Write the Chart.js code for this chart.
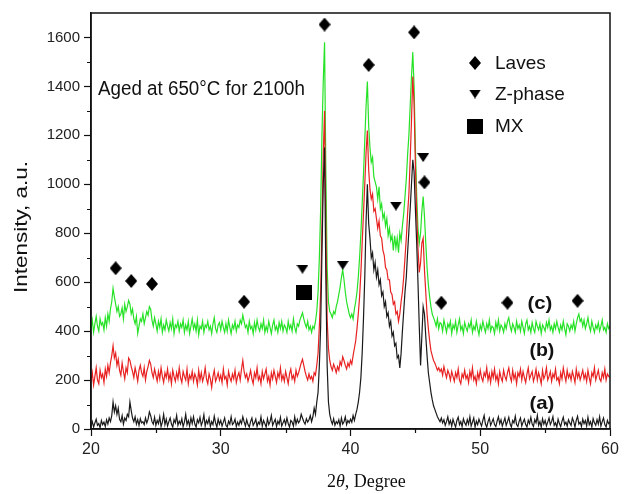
<!DOCTYPE html>
<html lang="en">
<head>
<meta charset="utf-8" />
<title>XRD - aged at 650°C for 2100h</title>
<script src="https://cdn.jsdelivr.net/npm/chart.js"></script>
<style>
  html, body { margin: 0; padding: 0; background: #fff; }
  #xrd { display: block; }
</style>
</head>
<body>
<canvas id="xrd" width="632" height="494"></canvas>
<script>
// scan grid: 2theta from 20 to 60 deg, 0.1 deg steps
const twoTheta = Array.from({ length: 401 }, (_, i) => +(20 + i * 0.1).toFixed(1));

// (a) – one row per degree
const intensityA = [
  12, 30, 8, 25, 40, 15, 22, 5, 35, 18,
  28, 10, 38, 20, 45, 30, 55, 110, 70, 95,
  60, 85, 40, 30, 55, 20, 45, 35, 60, 50,
  110, 75, 45, 30, 50, 20, 38, 15, 42, 25,
  30, 18, 45, 25, 40, 70, 55, 30, 20, 48,
  15, 35, 22, 50, 10, 28, 60, 18, 40, 12,
  30, 45, 20, 8, 38, 25, 55, 15, 32, 20,
  42, 10, 28, 60, 18, 35, 12, 45, 22, 50,
  20, 8, 38, 25, 48, 15, 30, 58, 12, 35,
  22, 45, 10, 30, 18, 52, 25, 8, 40, 20,
  35, 12, 28, 45, 15, 8, 32, 20, 50, 18,
  25, 40, 10, 28, 15, 35, 22, 50, 30, 12,
  38, 18, 8, 30, 45, 15, 25, 40, 10, 28,
  20, 50, 12, 35, 22, 8, 42, 18, 30, 55,
  15, 28, 40, 10, 32, 20, 48, 12, 25, 38,
  18, 45, 22, 8, 35, 28, 12, 50, 20, 40,
  25, 35, 60, 45, 30, 20, 42, 28, 38, 55,
  30, 50, 85, 60, 110, 150, 260, 420, 720, 1000,
  1150, 620, 260, 110, 60, 35, 20, 42, 15, 30,
  22, 38, 12, 45, 20, 30, 50, 18, 35, 25,
  40, 28, 55, 35, 60, 80, 110, 150, 210, 310,
  450, 620, 850, 1000, 840, 780, 700, 720, 650, 680,
  620, 650, 590, 610, 545, 560, 500, 520, 460, 475,
  420, 440, 380, 395, 340, 350, 290, 300, 250, 310,
  400, 480, 560, 620, 720, 810, 900, 1000, 1100, 1050,
  900, 760, 600, 420, 260, 380, 500, 470, 380, 300,
  230, 190, 150, 120, 95, 80, 65, 50, 40, 30,
  45, 25, 38, 15, 30, 50, 20, 35, 12, 40,
  22, 8, 35, 48, 18, 30, 10, 42, 25, 15,
  38, 20, 50, 12, 28, 45, 8, 32, 18, 40,
  25, 12, 35, 55, 20, 8, 30, 45, 15, 28,
  42, 18, 10, 32, 50, 22, 38, 12, 28, 45,
  15, 30, 48, 20, 8, 35, 25, 52, 18, 10,
  32, 45, 12, 28, 40, 18, 8, 36, 22, 48,
  20, 10, 38, 25, 55, 15, 30, 8, 42, 20,
  35, 12, 28, 45, 18, 30, 50, 15, 25, 8,
  40, 22, 10, 32, 48, 18, 28, 12, 38, 25,
  15, 45, 30, 8, 35, 52, 20, 28, 10, 40,
  22, 35, 12, 48, 18, 30, 8, 42, 25, 15,
  38, 20, 50, 12, 30, 45, 18, 8, 35, 22,
  28
];

// (b)
const intensityB = [
  195, 230, 180, 215, 250, 200, 185, 240, 210, 225,
  190, 245, 215, 260, 230, 270, 300, 340, 290, 310,
  260, 285, 240, 220, 270, 235, 205, 250, 230, 290,
  280, 255, 235, 210, 250, 225, 195, 240, 260, 230,
  215, 250, 200, 235, 255, 280, 265, 230, 210, 245,
  220, 195, 235, 205, 250, 215, 190, 230, 210, 245,
  200, 225, 185, 240, 215, 195, 230, 205, 250, 210,
  190, 235, 215, 200, 245, 185, 220, 205, 235, 195,
  225, 210, 180, 240, 200, 230, 195, 215, 250, 205,
  185, 225, 205, 170, 215, 240, 195, 210, 230, 200,
  220, 190, 245, 205, 215, 180, 235, 210, 195, 225,
  205, 240, 190, 215, 230, 200, 245, 280, 235, 210,
  225, 195, 215, 240, 205, 185, 230, 210, 250, 200,
  215, 185, 235, 205, 225, 245, 195, 215, 180, 230,
  205, 240, 215, 190, 230, 210, 250, 200, 220, 195,
  235, 210, 185, 225, 245, 205, 220, 195, 240, 215,
  230, 250, 270, 285, 260, 235, 215, 200, 225, 205,
  215, 195, 230, 220, 260, 310, 420, 560, 820, 1120,
  1300, 820, 450, 330, 280, 255, 240, 265, 250, 230,
  255, 240, 275, 260, 295, 280, 260, 245, 270, 255,
  280, 265, 300, 330, 360, 410, 470, 540, 640, 760,
  880, 1000, 1130, 1220, 1060, 980, 940, 960, 890, 900,
  860, 820, 850, 790, 780, 730, 710, 660, 650, 610,
  610, 560, 550, 510, 520, 470, 480, 440, 470, 520,
  560, 620, 700, 780, 880, 960, 1100, 1260, 1440, 1330,
  1080, 880, 740, 640, 680, 760, 780, 650, 560, 470,
  410, 360, 320, 300, 280, 270, 255, 240, 250, 235,
  245, 220, 255, 230, 210, 240, 225, 200, 235, 215,
  195, 230, 210, 245, 200, 185, 225, 210, 240, 205,
  220, 190, 235, 210, 250, 200, 215, 185, 230, 205,
  240, 210, 195, 230, 215, 250, 200, 225, 190, 235,
  210, 245, 200, 220, 185, 235, 210, 195, 240, 215,
  200, 230, 250, 215, 195, 240, 205, 225, 185, 230,
  215, 245, 200, 235, 210, 190, 225, 250, 205, 220,
  235, 195, 215, 245, 200, 230, 210, 185, 240, 205,
  220, 250, 200, 215, 235, 195, 225, 210, 245, 200,
  210, 185, 230, 205, 250, 220, 195, 240, 210, 225,
  200, 235, 215, 190, 245, 210, 230, 200, 220, 240,
  205, 225, 195, 240, 210, 185, 230, 215, 250, 200,
  220, 240, 205, 195, 230, 210, 245, 200, 225, 215,
  210
];

// (c)
const intensityC = [
  410, 445, 395, 430, 460, 420, 400, 450, 425, 435,
  405, 455, 420, 470, 440, 490, 520, 575, 540, 510,
  480, 500, 460, 470, 495, 450, 510, 480, 500, 525,
  510, 470, 490, 450, 430, 460, 390, 420, 450, 440,
  470, 430, 455, 480, 465, 500, 490, 445, 420, 455,
  430, 400, 440, 415, 450, 395, 425, 405, 445, 420,
  400, 435, 410, 450, 390, 425, 415, 440, 400, 430,
  415, 445, 395, 425, 405, 440, 390, 420, 450, 410,
  430, 400, 445, 385, 420, 410, 440, 395, 425, 415,
  440, 405, 420, 390, 430, 455, 410, 395, 425, 435,
  405, 440, 415, 395, 430, 400, 445, 415, 390, 425,
  410, 440, 400, 425, 415, 445, 430, 465, 440, 415,
  425, 395, 440, 410, 420, 390, 435, 405, 445, 415,
  400, 430, 410, 445, 395, 420, 400, 440, 415, 390,
  425, 445, 405, 420, 395, 435, 410, 440, 400, 425,
  415, 395, 440, 410, 425, 400, 450, 415, 395, 430,
  420, 445, 460, 475, 450, 430, 415, 440, 405, 420,
  395, 420, 410, 440, 480, 560, 700, 900, 1200, 1420,
  1580, 1050, 660, 520, 480, 470, 455, 480, 470, 500,
  520, 550, 580, 620, 650, 610, 560, 520, 495, 470,
  455, 470, 450, 490, 520, 560, 620, 700, 800, 920,
  1040, 1180, 1320, 1420, 1240, 1150, 1090, 1110, 1030, 1010,
  990, 940, 990, 900, 920, 860, 880, 830, 860, 790,
  820, 770, 790, 730, 790, 740, 780, 720, 800, 770,
  830, 880, 950, 1020, 1120, 1200, 1320, 1440, 1540, 1400,
  1150, 960, 820, 760, 800, 890, 950, 870, 760, 660,
  590, 540, 500, 470, 455, 440, 420, 450, 410, 435,
  430, 400, 445, 420, 395, 430, 415, 440, 390, 425,
  410, 440, 395, 425, 450, 405, 420, 390, 435, 415,
  400, 430, 415, 445, 395, 420, 405, 440, 410, 385,
  425, 405, 440, 415, 395, 430, 410, 445, 400, 420,
  415, 390, 435, 410, 445, 400, 425, 415, 395, 430,
  410, 440, 455, 420, 400, 430, 415, 395, 440, 410,
  425, 400, 440, 415, 390, 430, 445, 405, 420, 395,
  435, 410, 395, 440, 420, 405, 430, 390, 425, 415,
  400, 435, 415, 445, 405, 420, 395, 430, 410, 440,
  415, 395, 425, 405, 440, 410, 385, 430, 420, 400,
  425, 410, 440, 400, 430, 455, 470, 440, 450, 420,
  445, 410, 430, 455, 420, 400, 440, 415, 395, 425,
  410, 435, 400, 420, 445, 405, 415, 395, 430, 410,
  420
];

// phase markers (2theta, height)
const lavesX = [21.9, 23.1, 24.7, 31.8, 38.0, 41.4, 44.9, 45.7, 47.0, 52.1, 57.5];
const lavesY = [657, 605, 593, 520, 1653, 1488, 1621, 1008, 516, 516, 524];
const zPhaseX = [36.3, 39.4, 43.5, 45.6];
const zPhaseY = [653, 669, 911, 1109];
const mxX = [36.4];
const mxY = [556];

const xTicks = [20, 30, 40, 50, 60];
const yTicks = [0, 200, 400, 600, 800, 1000, 1200, 1400, 1600];
const xMinorTicks = [25, 35, 45, 55];
const yMinorTicks = [100, 300, 500, 700, 900, 1100, 1300, 1500];

const phaseNames = ['Laves', 'Z-phase', 'MX'];
const sampleNames = ['(a)', '(b)', '(c)'];

const SANS = '"Liberation Sans", Arial, sans-serif';
const SERIF = '"Liberation Serif", "Times New Roman", serif';

// small filled glyphs used as point styles
function glyph(w, h, path) {
  const c = document.createElement('canvas');
  c.width = w;
  c.height = h;
  const g = c.getContext('2d');
  g.fillStyle = '#000';
  g.beginPath();
  path(g, w, h);
  g.closePath();
  g.fill();
  return c;
}
const diamond = glyph(12, 14, (g, w, h) => { g.moveTo(w / 2, 0); g.lineTo(w, h / 2); g.lineTo(w / 2, h); g.lineTo(0, h / 2); });
const triDown = glyph(12, 9, (g, w, h) => { g.moveTo(0, 0); g.lineTo(w, 0); g.lineTo(w / 2, h); });
const square = glyph(16, 15, (g, w, h) => g.rect(0, 0, w, h));

function trace(label, values, color) {
  return {
    type: 'line',
    label,
    data: values.map((y, i) => ({ x: twoTheta[i], y })),
    borderColor: color,
    borderWidth: 1.2,
    pointRadius: 0,
    tension: 0
  };
}

function markers(label, xs, ys, style) {
  return {
    type: 'scatter',
    label,
    data: xs.map((x, i) => ({ x, y: ys[i] })),
    pointStyle: style,
    pointRadius: 6,
    showLine: false,
    order: -1
  };
}

// text squeezed/stretched to a given width (left-aligned context expected)
function fitText(ctx, text, x, y, width, center) {
  const w = ctx.measureText(text).width;
  ctx.save();
  ctx.translate(x, y);
  ctx.scale(width / w, 1);
  ctx.fillText(text, center ? -w / 2 : 0, 0);
  ctx.restore();
}

const decorations = {
  id: 'decorations',
  afterDraw(chart) {
    const { ctx, chartArea: a, scales: { x, y } } = chart;
    ctx.save();
    ctx.strokeStyle = '#111';
    ctx.fillStyle = '#111';
    ctx.textAlign = 'left';

    // frame
    ctx.lineWidth = 1.5;
    ctx.strokeRect(a.left, a.top, a.right - a.left, a.bottom - a.top);

    // minor ticks
    ctx.beginPath();
    yMinorTicks.forEach(v => {
      const py = Math.round(y.getPixelForValue(v)) + 0.5;
      ctx.moveTo(a.left - 4, py);
      ctx.lineTo(a.left, py);
    });
    xMinorTicks.forEach(v => {
      const px = Math.round(x.getPixelForValue(v)) + 0.5;
      ctx.moveTo(px, a.bottom);
      ctx.lineTo(px, a.bottom + 4);
    });
    ctx.lineWidth = 1.2;
    ctx.stroke();

    // axis titles
    ctx.textBaseline = 'middle';
    ctx.font = '18px ' + SANS;
    ctx.save();
    ctx.translate(a.left - 69, (a.top + a.bottom) / 2 + 6);
    ctx.rotate(-Math.PI / 2);
    fitText(ctx, 'Intensity, a.u.', 0, 0, 132, true);
    ctx.restore();

    ctx.textBaseline = 'alphabetic';
    let tx = a.left + 236;
    const ty = a.bottom + 58;
    ctx.font = '18px ' + SERIF;
    ctx.fillText('2', tx, ty);
    tx += ctx.measureText('2').width;
    ctx.font = 'italic 18px ' + SERIF;
    ctx.fillText('θ', tx, ty);
    tx += ctx.measureText('θ').width;
    ctx.font = '18px ' + SERIF;
    ctx.fillText(', Degree', tx, ty);

    // condition note
    ctx.font = '20px ' + SANS;
    fitText(ctx, 'Aged at 650°C for 2100h', a.left + 7, a.top + 82, 207, false);

    // phase key
    const keyX = a.left + 384;
    const keyRows = [a.top + 50, a.top + 81, a.top + 113];
    const keyGlyphs = [diamond, triDown, square];
    ctx.textBaseline = 'middle';
    ctx.font = '19px ' + SANS;
    phaseNames.forEach((name, i) => {
      const g = keyGlyphs[i];
      ctx.drawImage(g, keyX - g.width / 2, keyRows[i] - g.height / 2);
      ctx.fillText(name, keyX + 20, keyRows[i] + 1);
    });

    // sample labels next to each trace
    ctx.font = 'bold 19px ' + SANS;
    const labelPos = [[54.75, 105], [54.75, 319], [54.6, 512]];
    sampleNames.forEach((name, i) => {
      fitText(ctx, name, x.getPixelForValue(labelPos[i][0]), y.getPixelForValue(labelPos[i][1]), 25, true);
    });

    ctx.restore();
  }
};

const axisCommon = {
  type: 'linear',
  grid: { drawOnChartArea: false, drawTicks: true, tickLength: 7, tickColor: '#111', tickWidth: 1.2 },
  border: { color: '#111', width: 1.5 },
  title: { display: false }
};

new Chart(document.getElementById('xrd'), {
  data: {
    datasets: [
      trace('(a)', intensityA, '#1a1a1a'),
      trace('(b)', intensityB, 'rgb(232, 34, 34)'),
      trace('(c)', intensityC, 'rgb(38, 226, 38)'),
      markers('Laves', lavesX, lavesY, diamond),
      markers('Z-phase', zPhaseX, zPhaseY, triDown),
      markers('MX', mxX, mxY, square)
    ]
  },
  options: {
    responsive: false,
    animation: false,
    events: [],
    layout: { padding: { top: 8, right: 22, left: 0, bottom: 0 } },
    plugins: { legend: { display: false }, tooltip: { enabled: false } },
    scales: {
      x: {
        ...axisCommon,
        min: 20,
        max: 60,
        afterBuildTicks: s => { s.ticks = xTicks.map(value => ({ value })); },
        afterFit: s => { s.height = 65; },
        ticks: { color: '#222', font: { family: SANS, size: 16 }, padding: 4, maxRotation: 0, callback: v => String(v) }
      },
      y: {
        ...axisCommon,
        min: 0,
        max: 1700,
        afterBuildTicks: s => { s.ticks = yTicks.map(value => ({ value })); },
        afterFit: s => { s.width = 91; },
        ticks: { color: '#222', font: { family: SANS, size: 15 }, padding: 4, callback: v => String(v) }
      }
    }
  },
  plugins: [decorations]
});
</script>
</body>
</html>
